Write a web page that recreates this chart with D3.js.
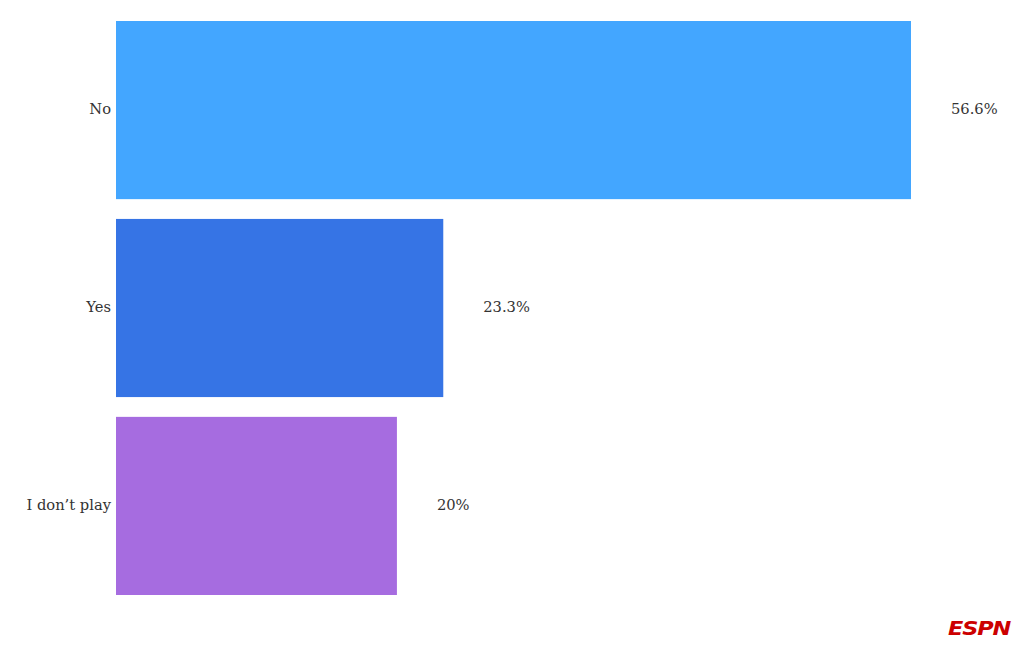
<!DOCTYPE html>
<html><head><meta charset="utf-8">
<script src="https://cdn.jsdelivr.net/npm/d3@7"></script>
<style>body{margin:0;background:#fff}</style>
</head><body>
<script>
const categories = ["No", "Yes", "I don\u2019t play"];
const values = [56.6, 23.3, 20];
const valueLabels = ["56.6%", "23.3%", "20%"];
const colors = ["#43A6FF", "#3674E5", "#A66CE0"];

const W = 1020, H = 650;
const svg = d3.select("body").append("svg").attr("width", W).attr("height", H);

const left = 116;
const x = d3.scaleLinear().domain([0, 56.6]).range([left, 911]);
const y = d3.scaleBand().domain(categories).range([21, 595]).paddingInner(0.1).paddingOuter(0);

svg.selectAll("rect.bar").data(categories).join("rect")
  .attr("class", "bar")
  .attr("x", x(0))
  .attr("y", d => y(d))
  .attr("width", (d, i) => x(values[i]) - x(0))
  .attr("height", y.bandwidth())
  .attr("fill", (d, i) => colors[i]);

const font = "Georgia, 'DejaVu Serif', serif";

svg.selectAll("text.cat").data(categories).join("text")
  .attr("class", "cat")
  .attr("x", left - 5)
  .attr("y", d => y(d) + y.bandwidth() / 2)
  .attr("dy", "0.28em")
  .attr("text-anchor", "end")
  .attr("font-family", font)
  .attr("font-size", 14.7)
  .attr("fill", "#333")
  .text(d => d);

svg.selectAll("text.val").data(categories).join("text")
  .attr("class", "val")
  .attr("x", (d, i) => x(values[i]) + 40)
  .attr("y", d => y(d) + y.bandwidth() / 2)
  .attr("dy", "0.28em")
  .attr("text-anchor", "start")
  .attr("font-family", font)
  .attr("font-size", 14.7)
  .attr("fill", "#333")
  .text((d, i) => valueLabels[i]);

svg.append("text")
  .attr("x", 1010)
  .attr("y", 635)
  .attr("text-anchor", "end")
  .attr("font-family", "'DejaVu Sans', sans-serif")
  .attr("font-weight", "bold")
  .attr("font-style", "italic")
  .attr("font-size", 19)
  .attr("letter-spacing", "-1")
  .attr("fill", "#CC0000")
  .attr("textLength", 62)
  .attr("lengthAdjust", "spacingAndGlyphs")
  .text("ESPN");
</script>
</body></html>
